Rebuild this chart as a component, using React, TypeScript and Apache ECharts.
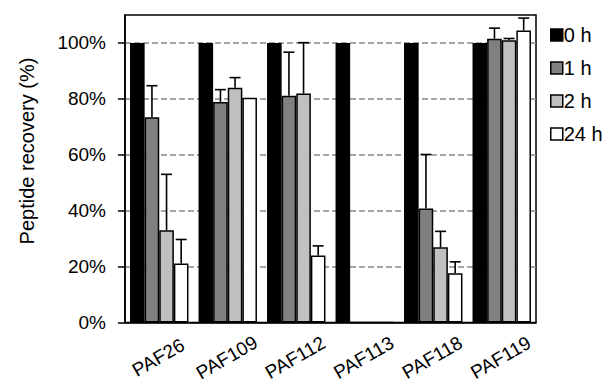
import React, { useEffect, useRef } from "react";
import * as echarts from "echarts";

const categories = ["PAF26", "PAF109", "PAF112", "PAF113", "PAF118", "PAF119"];
const seriesNames = ["0 h", "1 h", "2 h", "24 h"];
const values0h = [100, 100, 100, 100, 100, 100];
const values1h = [73.4, 78.9, 81.1, 0, 40.8, 101.5];
const values2h = [33.0, 84.0, 81.9, 0, 26.9, 101.0];
const values24h = [21.1, 80.4, 24.0, 0, 17.6, 104.5];
const err0h = [0, 0, 0, 0, 0, 0];
const err1h = [11.3, 4.4, 15.6, 0, 19.3, 3.8];
const err2h = [20.0, 3.6, 18.2, 0, 5.7, 0.6];
const err24h = [8.6, 0, 3.4, 0, 4.1, 4.4];
const yTicks = [0, 20, 40, 60, 80, 100];

const barColors = ["#000000", "#808080", "#c0c0c0", "#ffffff"];
const allValues = [values0h, values1h, values2h, values24h];
const allErrs = [err0h, err1h, err2h, err24h];
const CAT_GAP = 0.147;
const FONT = "'Liberation Sans', Arial, sans-serif";

export default function App() {
  const ref = useRef<HTMLDivElement>(null);
  useEffect(() => {
    if (!ref.current) return;
    const chart = echarts.init(ref.current, null, { renderer: "svg" });
    const nBars = seriesNames.length;

    const barSeries = seriesNames.map((name, k) => ({
      name,
      type: "bar",
      data: allValues[k],
      barGap: "0%",
      barCategoryGap: CAT_GAP * 100 + "%",
      itemStyle: { color: barColors[k], borderColor: "#000", borderWidth: 1.5 },
      z: 2,
    }));

    const errSeries = seriesNames.map((name, k) => ({
      name: "err-" + name,
      type: "custom",
      z: 3,
      data: allValues[k].map((v, i) => [i, v, allErrs[k][i]]),
      encode: { x: 0, y: 1 },
      renderItem: (params: any, api: any) => {
        const ci = api.value(0);
        const v = api.value(1);
        const e = api.value(2);
        if (!e) return null;
        const base = api.coord([ci, v]);
        const top = api.coord([ci, v + e]);
        const catW = api.size([1, 0])[0];
        const bw = (catW * (1 - CAT_GAP)) / nBars;
        const x = base[0] + (k - (nBars - 1) / 2) * bw;
        const half = 5.5;
        return {
          type: "group",
          children: [
            { type: "line", shape: { x1: x, y1: base[1], x2: x, y2: top[1] }, style: { stroke: "#000", lineWidth: 1.6 } },
            { type: "line", shape: { x1: x - half, y1: top[1], x2: x + half, y2: top[1] }, style: { stroke: "#000", lineWidth: 1.6 } },
          ],
        };
      },
    }));

    const titleGraphic = {
      type: "text",
      x: 27,
      y: 151,
      rotation: Math.PI / 2,
      style: { text: "Peptide recovery (%)", font: "20px " + FONT, fill: "#000", align: "center", verticalAlign: "middle" },
    };

    chart.setOption({
      animation: false,
      backgroundColor: "#fff",
      textStyle: { fontFamily: FONT },
      grid: { left: 125, top: 15, width: 411, height: 307.5, show: true, borderColor: "#000", borderWidth: 1.5, containLabel: false },
      legend: {
        data: seriesNames,
        orient: "vertical",
        left: 550,
        top: 25,
        padding: 0,
        itemWidth: 12,
        itemHeight: 12,
        itemGap: 13,
        icon: "rect",
        itemStyle: { borderColor: "#000", borderWidth: 1.5 },
        textStyle: { fontSize: 20, color: "#000", fontFamily: FONT, lineHeight: 20, padding: [0, 0, 0, -4] },
      },
      xAxis: {
        type: "category",
        data: categories,
        axisLine: { show: true, lineStyle: { color: "#000", width: 1.5 } },
        axisTick: { show: false },
        axisLabel: { show: false },
        splitLine: { show: false },
      },
      yAxis: {
        type: "value",
        min: 0,
        max: 110,
        interval: 20,
        axisLine: { show: true, lineStyle: { color: "#000", width: 1.5 } },
        axisTick: { show: true, length: 7, lineStyle: { color: "#000", width: 1.5 }, customValues: yTicks },
        axisLabel: {
          formatter: (v: number) => (v > 100 ? "" : v + "%"),
          fontSize: 19,
          color: "#000",
          fontFamily: FONT,
          margin: 19,
          customValues: yTicks,
        },
        splitLine: { show: true, showMinLine: false, lineStyle: { color: "#888", width: 1.5, type: [6, 3] } },
      },
      graphic: [titleGraphic],
      series: [...barSeries, ...errSeries],
    });

    const labelGraphics = categories.map((c, i) => {
      const p = chart.convertToPixel({ xAxisIndex: 0, yAxisIndex: 0 }, [i, 0]) as number[];
      return {
        type: "group",
        x: p[0] - 1,
        y: p[1] + 35,
        rotation: Math.PI / 6,
        children: [
          {
            type: "text",
            x: 0,
            y: 0,
            style: { text: c, font: "19px " + FONT, fill: "#000", align: "center", verticalAlign: "middle" },
          },
        ],
      };
    });
    chart.setOption({ graphic: [titleGraphic, ...labelGraphics] });

    return () => chart.dispose();
  }, []);
  return <div ref={ref} style={{ position: "fixed", left: 0, top: 0, width: 610, height: 387 }} />;
}
